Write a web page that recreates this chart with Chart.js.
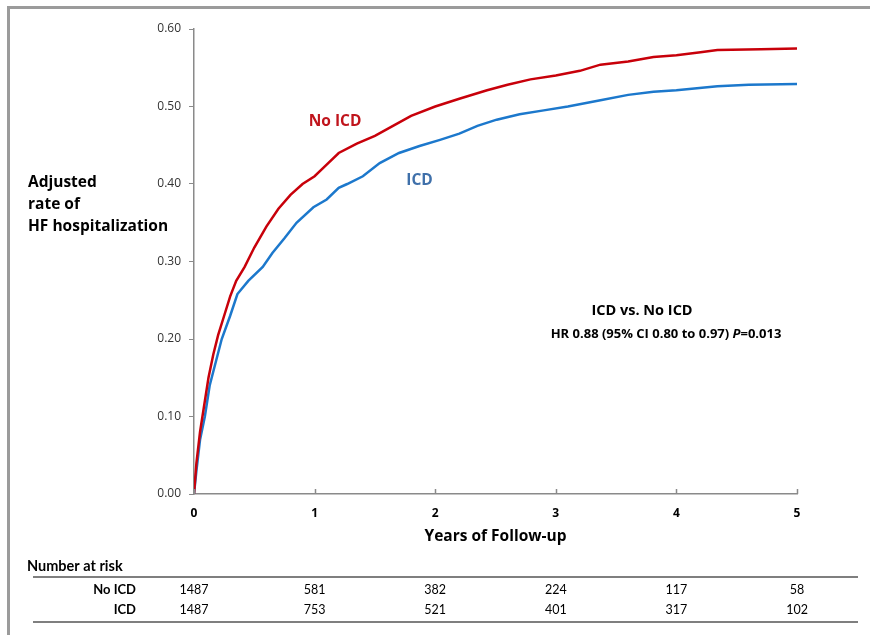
<!DOCTYPE html>
<html>
<head>
<meta charset="utf-8">
<script src="https://cdn.jsdelivr.net/npm/chart.js@4.4.1/dist/chart.umd.min.js"></script>
<style>
  html, body { margin: 0; padding: 0; background: #fff; }
</style>
</head>
<body>
<canvas id="hfChart" width="870" height="635"></canvas>
<script>
// cumulative HF hospitalization
const noIcdYears = [0, 0.02, 0.05, 0.08, 0.12, 0.16, 0.2, 0.25, 0.3, 0.35, 0.42, 0.5, 0.6, 0.7, 0.8, 0.9, 1.0, 1.1, 1.2, 1.35, 1.5, 1.65, 1.8, 2.0, 2.2, 2.43, 2.6, 2.79, 3.0, 3.2, 3.37, 3.6, 3.81, 4.0, 4.2, 4.34, 4.7, 5.0];
const noIcdRate  = [0, 0.04, 0.08, 0.11, 0.15, 0.18, 0.205, 0.23, 0.255, 0.275, 0.293, 0.318, 0.345, 0.368, 0.386, 0.40, 0.41, 0.425, 0.44, 0.452, 0.462, 0.475, 0.488, 0.50, 0.51, 0.521, 0.528, 0.535, 0.54, 0.546, 0.554, 0.558, 0.564, 0.566, 0.57, 0.573, 0.574, 0.575];

const icdYears = [0, 0.02, 0.05, 0.09, 0.13, 0.18, 0.23, 0.3, 0.36, 0.45, 0.57, 0.65, 0.75, 0.85, 0.99, 1.1, 1.2, 1.27, 1.4, 1.54, 1.7, 1.87, 2.04, 2.2, 2.35, 2.51, 2.7, 2.9, 3.1, 3.37, 3.6, 3.81, 4.0, 4.34, 4.6, 5.0];
const icdRate  = [0, 0.03, 0.07, 0.10, 0.14, 0.17, 0.20, 0.23, 0.258, 0.275, 0.293, 0.311, 0.33, 0.35, 0.37, 0.38, 0.395, 0.40, 0.41, 0.427, 0.44, 0.449, 0.457, 0.465, 0.475, 0.483, 0.49, 0.495, 0.50, 0.508, 0.515, 0.519, 0.521, 0.526, 0.528, 0.529];

const yTicks = [0, 0.1, 0.2, 0.3, 0.4, 0.5, 0.6];
const xTicks = [0, 1, 2, 3, 4, 5];

// number at risk table
const riskGroups = ['No ICD', 'ICD'];
const riskNoIcd = [1487, 581, 382, 224, 117, 58];
const riskIcd = [1487, 753, 521, 401, 317, 102];

const RED = '#c8000a';
const BLUE = '#1c78cc';
const AXIS = '#8a8a8a';
const BOLD = '"Open Sans", sans-serif';
const NARROW = 'Lato, sans-serif';

function toPoints(xs, ys) {
    return xs.map((x, i) => ({ x: x, y: ys[i] }));
}

const decorations = {
    id: 'decorations',
    afterDraw(chart) {
        const ctx = chart.ctx;
        const xs = chart.scales.x;
        const ys = chart.scales.y;
        const area = chart.chartArea;
        ctx.save();

        // outer frame (only top and left visible)
        ctx.fillStyle = '#9b9b9b';
        ctx.fillRect(7, 6, 863, 3);
        ctx.fillRect(7, 6, 3, 629);

        // x ticks pointing up into the plot
        ctx.strokeStyle = AXIS;
        ctx.lineWidth = 1.5;
        xTicks.forEach(v => {
            const px = Math.round(xs.getPixelForValue(v)) + 0.5;
            ctx.beginPath();
            ctx.moveTo(px, area.bottom);
            ctx.lineTo(px, area.bottom - 5);
            ctx.stroke();
        });

        // y title
        ctx.fillStyle = '#000';
        ctx.font = 'bold 15.5px ' + BOLD;
        ctx.textAlign = 'left';
        ctx.textBaseline = 'middle';
        ctx.fillText('Adjusted', 28, 183);
        ctx.fillText('rate of', 28, 205);
        ctx.fillText('HF hospitalization', 28, 227);

        // x title
        ctx.textAlign = 'center';
        ctx.fillText('Years of Follow-up', (area.left + area.right) / 2, 537);

        // curve labels
        ctx.fillStyle = '#c0141c';
        ctx.fillText('No ICD', xs.getPixelForValue(1.17), ys.getPixelForValue(0.481));
        ctx.fillStyle = '#3f70aa';
        ctx.fillText('ICD', xs.getPixelForValue(1.87), ys.getPixelForValue(0.405));

        // statistics
        ctx.fillStyle = '#000';
        ctx.font = 'bold 14.5px ' + BOLD;
        ctx.fillText('ICD vs. No ICD', 642, 311);
        const hr = 'HR 0.88 (95% CI 0.80 to 0.97) ';
        ctx.font = 'bold 13px ' + BOLD;
        const w1 = ctx.measureText(hr).width;
        ctx.font = 'bold italic 13px ' + BOLD;
        const w2 = ctx.measureText('P').width;
        ctx.font = 'bold 13px ' + BOLD;
        const w3 = ctx.measureText('=0.013').width;
        const sx = 666 - (w1 + w2 + w3) / 2;
        ctx.textAlign = 'left';
        ctx.fillText(hr, sx, 334);
        ctx.font = 'bold italic 13px ' + BOLD;
        ctx.fillText('P', sx + w1, 334);
        ctx.font = 'bold 13px ' + BOLD;
        ctx.fillText('=0.013', sx + w1 + w2, 334);

        // number at risk
        ctx.font = 'bold 14.5px ' + NARROW;
        ctx.fillText('Number at risk', 27, 566);
        ctx.strokeStyle = '#555';
        ctx.lineWidth = 1.5;
        [577, 622].forEach(y => {
            ctx.beginPath();
            ctx.moveTo(33, y);
            ctx.lineTo(858, y);
            ctx.stroke();
        });
        const rows = [riskNoIcd, riskIcd];
        rows.forEach((vals, r) => {
            const y = 590 + r * 20;
            ctx.font = 'bold 13px ' + NARROW;
            ctx.textAlign = 'right';
            ctx.fillStyle = '#000';
            ctx.fillText(riskGroups[r], 136, y);
            ctx.font = '12.5px "Liberation Sans Narrow", Lato, sans-serif';
            ctx.textAlign = 'center';
            vals.forEach((v, i) => {
                ctx.fillText(String(v), xs.getPixelForValue(xTicks[i]), y);
            });
        });

        ctx.restore();
    }
};

const ctx = document.getElementById('hfChart').getContext('2d');
new Chart(ctx, {
    type: 'line',
    data: {
        datasets: [{
            label: 'No ICD',
            data: toPoints(noIcdYears, noIcdRate),
            borderColor: RED,
            borderWidth: 2.5,
            pointRadius: 0,
            tension: 0,
            fill: false
        }, {
            label: 'ICD',
            data: toPoints(icdYears, icdRate),
            borderColor: BLUE,
            borderWidth: 2.5,
            pointRadius: 0,
            tension: 0,
            fill: false
        }]
    },
    options: {
        responsive: false,
        animation: false,
        devicePixelRatio: 1,
        layout: {
            padding: { left: 0, top: 29, right: 73, bottom: 111 }
        },
        plugins: {
            legend: { display: false },
            tooltip: { enabled: false }
        },
        scales: {
            x: {
                type: 'linear',
                min: 0,
                max: 5,
                afterBuildTicks: (scale) => { scale.ticks = xTicks.map(v => ({ value: v })); },
                afterFit: (scale) => { scale.height = 30; },
                border: { color: AXIS, width: 1.5 },
                grid: { display: false },
                ticks: {
                    color: '#000',
                    font: { family: BOLD, size: 12, weight: 'bold' },
                    padding: 4,
                    maxRotation: 0
                }
            },
            y: {
                min: 0,
                max: 0.6,
                afterBuildTicks: (scale) => { scale.ticks = yTicks.map(v => ({ value: v })); },
                afterFit: (scale) => { scale.width = 194; },
                border: { color: AXIS, width: 1.5 },
                grid: { drawOnChartArea: false, tickLength: 5, color: AXIS, lineWidth: 1 },
                ticks: {
                    color: '#333',
                    font: { family: '"Open Sans", sans-serif', size: 12 },
                    padding: 8,
                    callback: (v) => Number(v).toFixed(2)
                }
            }
        }
    },
    plugins: [decorations]
});
</script>
</body>
</html>
